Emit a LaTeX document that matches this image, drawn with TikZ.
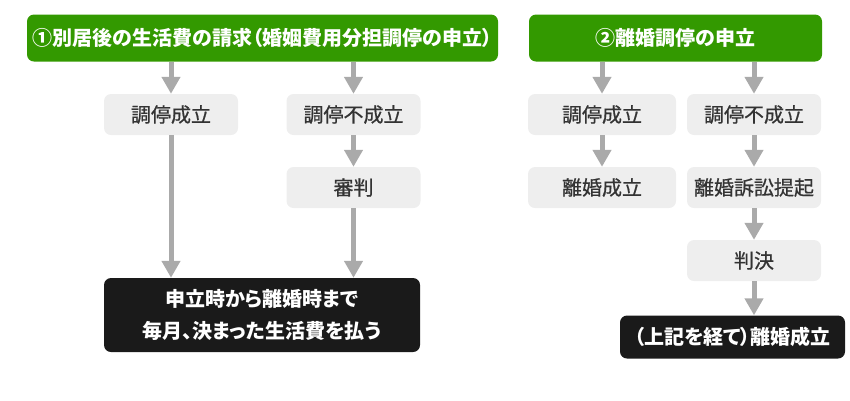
\documentclass[tikz,border=0pt]{standalone}
\usepackage{fontspec}
\setmainfont{Noto Sans CJK JP}[RawFeature=+palt]
\newfontfamily\medfont{Noto Sans CJK JP}[RawFeature=+palt, FakeBold=0.7]
\usetikzlibrary{arrows.meta}

\definecolor{grn}{HTML}{339900}
\definecolor{pale}{HTML}{EEEEEE}
\definecolor{ink}{HTML}{1A1A1A}
\definecolor{arr}{HTML}{AAAAAA}
\definecolor{txt}{HTML}{333333}

\tikzstyle{G} = [rectangle, fill=grn, text=white, font=\bfseries\fontsize{20}{24}\selectfont, rounded corners=7pt, minimum height=47pt, inner sep=0pt]
\tikzstyle{s} = [rectangle, fill=pale, text=txt, font=\medfont\fontsize{20}{24}\selectfont, rounded corners=7pt, minimum height=41pt, minimum width=134pt, inner sep=0pt]
\tikzstyle{k} = [rectangle, fill=ink, text=white, font=\bfseries\fontsize{20}{32}\selectfont, rounded corners=7pt, inner sep=0pt, align=center]
\tikzstyle{ar} = [draw=arr, line width=5pt, -{Triangle[length=17pt, width=18pt]}]

\begin{document}
\begin{tikzpicture}[x=1pt, y=-1pt, node distance=73pt]
	\useasboundingbox (0,0) rectangle (850,400);

	\node [G, minimum width=471pt] (req) at (262.5,38) {①別居後の生活費の請求（婚姻費用分担調停の申立）};
	\node [G, minimum width=293pt] (med) at (675.5,38) {②離婚調停の申立};

	\node [s] (ok1) at (171,114.5) {調停成立};
	\node [s] (ng1) at (353.5,114.5) {調停不成立};
	\node [s, below of=ng1] (trial) {審判};
	\node [k, minimum width=316pt, minimum height=74pt] (pay) at (262,315) {申立時から離婚時まで\\毎月、決まった生活費を払う};

	\node [s, minimum width=148pt] (ok2) at (602,114.5) {調停成立};
	\node [s] (ng2) at (754,114.5) {調停不成立};
	\node [s, minimum width=148pt, below of=ok2] (div) {離婚成立};
	\node [s, below of=ng2] (suit) {離婚訴訟提起};
	\node [s, below of=suit] (judge) {判決};
	\node [k, minimum width=225pt, minimum height=43pt] (fin) at (732.5,337) {（上記を経て）離婚成立};

	\draw [ar] (req.south -| ok1) -- (ok1);
	\draw [ar] (req.south -| ng1) -- (ng1);
	\draw [ar] (ng1) -- (trial);
	\draw [ar] (ok1) -- (ok1 |- pay.north);
	\draw [ar] (trial) -- (trial |- pay.north);

	\draw [ar] (med.south -| ok2) -- (ok2);
	\draw [ar] (med.south -| ng2) -- (ng2);
	\draw [ar] (ok2) -- (div);
	\draw [ar] (ng2) -- (suit);
	\draw [ar] (suit) -- (judge);
	\draw [ar] (judge) -- (judge |- fin.north);

\end{tikzpicture}
\end{document}
